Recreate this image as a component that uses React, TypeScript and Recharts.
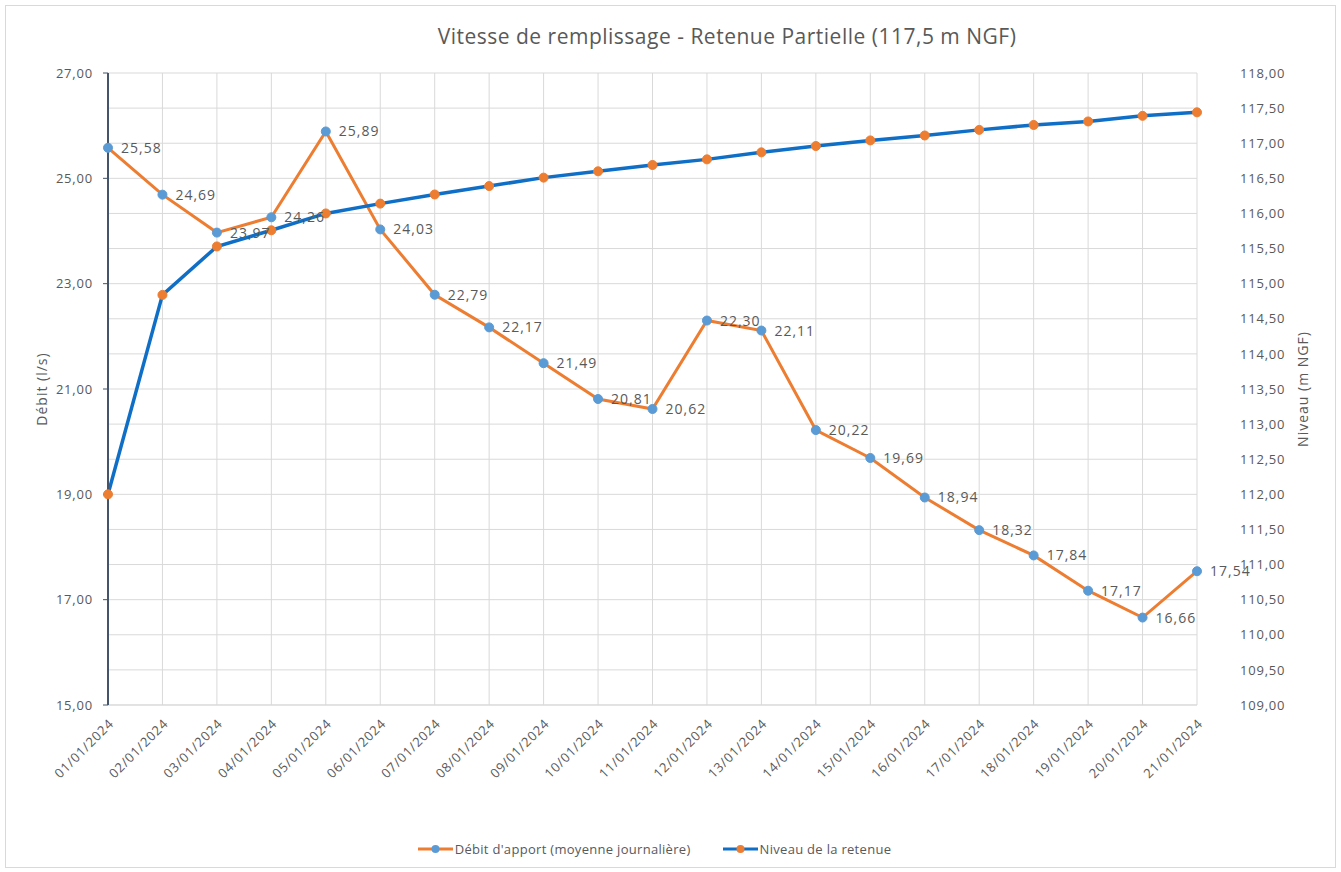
import React from "react";
import {
  LineChart,
  Line,
  XAxis,
  YAxis,
  CartesianGrid,
  Legend,
  LabelList,
} from "recharts";

const dates = [
  "01/01/2024", "02/01/2024", "03/01/2024", "04/01/2024", "05/01/2024",
  "06/01/2024", "07/01/2024", "08/01/2024", "09/01/2024", "10/01/2024",
  "11/01/2024", "12/01/2024", "13/01/2024", "14/01/2024", "15/01/2024",
  "16/01/2024", "17/01/2024", "18/01/2024", "19/01/2024", "20/01/2024",
  "21/01/2024",
];

const debit = [
  25.58, 24.69, 23.97, 24.26, 25.89, 24.03, 22.79, 22.17, 21.49, 20.81,
  20.62, 22.3, 22.11, 20.22, 19.69, 18.94, 18.32, 17.84, 17.17, 16.66, 17.54,
];

const niveau = [
  112.0, 114.84, 115.53, 115.76, 116.0, 116.14, 116.27, 116.39, 116.51, 116.6,
  116.69, 116.77, 116.87, 116.96, 117.04, 117.11, 117.19, 117.26, 117.31,
  117.39, 117.44,
];

const debitTicks = [15, 17, 19, 21, 23, 25, 27];
const niveauTicks = [
  109, 109.5, 110, 110.5, 111, 111.5, 112, 112.5, 113, 113.5, 114, 114.5, 115,
  115.5, 116, 116.5, 117, 117.5, 118,
];

const ORANGE = "#ED7D31";
const BLUE = "#0F6FC6";
const LIGHT_BLUE = "#5B9BD5";
const TEXT = "#595959";
const GRID = "#d9d9d9";
const FONT = "'Open Sans', sans-serif";

const data = dates.map((d, i) => ({ date: d, debit: debit[i], niveau: niveau[i] }));

// excel french number format
const fr = (v: number) => v.toFixed(2).replace(".", ",");

const tickStyle = { fontSize: 13, fill: TEXT, fontFamily: FONT, letterSpacing: 0.8 };
const titleStyle = { textAnchor: "middle", fontSize: 14, fill: TEXT, fontFamily: FONT, letterSpacing: 1 };

const legendItems = [
  { label: "Débit d'apport (moyenne journalière)", line: ORANGE, dot: LIGHT_BLUE },
  { label: "Niveau de la retenue", line: BLUE, dot: ORANGE },
];

function ChartLegend() {
  return (
    <div
      style={{
        display: "flex",
        justifyContent: "center",
        gap: 32,
        fontFamily: FONT,
        fontSize: 13,
        letterSpacing: 0.3,
        color: TEXT,
        paddingRight: 32,
      }}
    >
      {legendItems.map((it) => (
        <div key={it.label} style={{ display: "flex", alignItems: "center", gap: 2 }}>
          <svg width={35} height={12}>
            <line x1={0} y1={6} x2={35} y2={6} stroke={it.line} strokeWidth={3} />
            <circle cx={17.5} cy={6} r={4} fill={it.dot} />
          </svg>
          <span>{it.label}</span>
        </div>
      ))}
    </div>
  );
}

export default function App() {
  return (
    <div
      style={{
        position: "absolute",
        left: 0,
        top: 0,
        width: 1341,
        height: 872,
        background: "#fff",
      }}
    >
      <div
        style={{
          position: "absolute",
          left: 5,
          top: 5,
          width: 1329,
          height: 861,
          border: `1px solid ${GRID}`,
        }}
      />
      <div
        style={{
          position: "absolute",
          left: 0,
          top: 22,
          width: 1454,
          textAlign: "center",
          fontFamily: FONT,
          fontSize: 21,
          letterSpacing: 0.5,
          color: TEXT,
        }}
      >
        Vitesse de remplissage - Retenue Partielle (117,5 m NGF)
      </div>
      <LineChart
        width={1341}
        height={872}
        data={data}
        margin={{ top: 73, right: 20, bottom: 14, left: 20 }}
        style={{ position: "absolute", left: 0, top: 0 }}
      >
        <CartesianGrid yAxisId="right" stroke={GRID} strokeWidth={1} />
        <XAxis
          dataKey="date"
          scale="point"
          padding={{ left: 0, right: 0 }}
          interval={0}
          height={135}
          tickLine={false}
          axisLine={{ stroke: GRID }}
          tickMargin={7}
          tick={{ ...tickStyle, angle: -45, textAnchor: "end" }}
        />
        <YAxis
          yAxisId="left"
          orientation="left"
          width={88}
          domain={[15, 27]}
          ticks={debitTicks}
          interval={0}
          tickFormatter={fr}
          axisLine={{ stroke: "#44546A", strokeWidth: 2 }}
          tickLine={{ stroke: "#44546A" }}
          tickSize={5}
          tickMargin={10}
          tick={tickStyle}
          label={{
            value: "Débit (l/s)",
            angle: -90,
            position: "insideLeft",
            offset: 22,
            style: titleStyle,
          }}
        />
        <YAxis
          yAxisId="right"
          orientation="right"
          width={124}
          domain={[109, 118]}
          ticks={niveauTicks}
          interval={0}
          tickFormatter={fr}
          axisLine={false}
          tickLine={false}
          tickMargin={37}
          tick={tickStyle}
          label={{
            value: "Niveau (m NGF)",
            angle: -90,
            position: "insideRight",
            offset: 18,
            style: titleStyle,
          }}
        />
        <Legend verticalAlign="bottom" content={() => <ChartLegend />} />
        <Line
          yAxisId="left"
          dataKey="debit"
          type="linear"
          stroke={ORANGE}
          strokeWidth={3}
          dot={{ r: 4.5, fill: LIGHT_BLUE, stroke: LIGHT_BLUE, strokeWidth: 1 }}
          isAnimationActive={false}
        >
          <LabelList
            dataKey="debit"
            position="right"
            offset={13}
            formatter={(v: any) => fr(Number(v))}
            style={{ fontSize: 14, fill: TEXT, fontFamily: FONT, letterSpacing: 1 }}
          />
        </Line>
        <Line
          yAxisId="right"
          dataKey="niveau"
          type="linear"
          stroke={BLUE}
          strokeWidth={3.5}
          dot={{ r: 4.5, fill: ORANGE, stroke: ORANGE, strokeWidth: 1 }}
          isAnimationActive={false}
        />
      </LineChart>
    </div>
  );
}
